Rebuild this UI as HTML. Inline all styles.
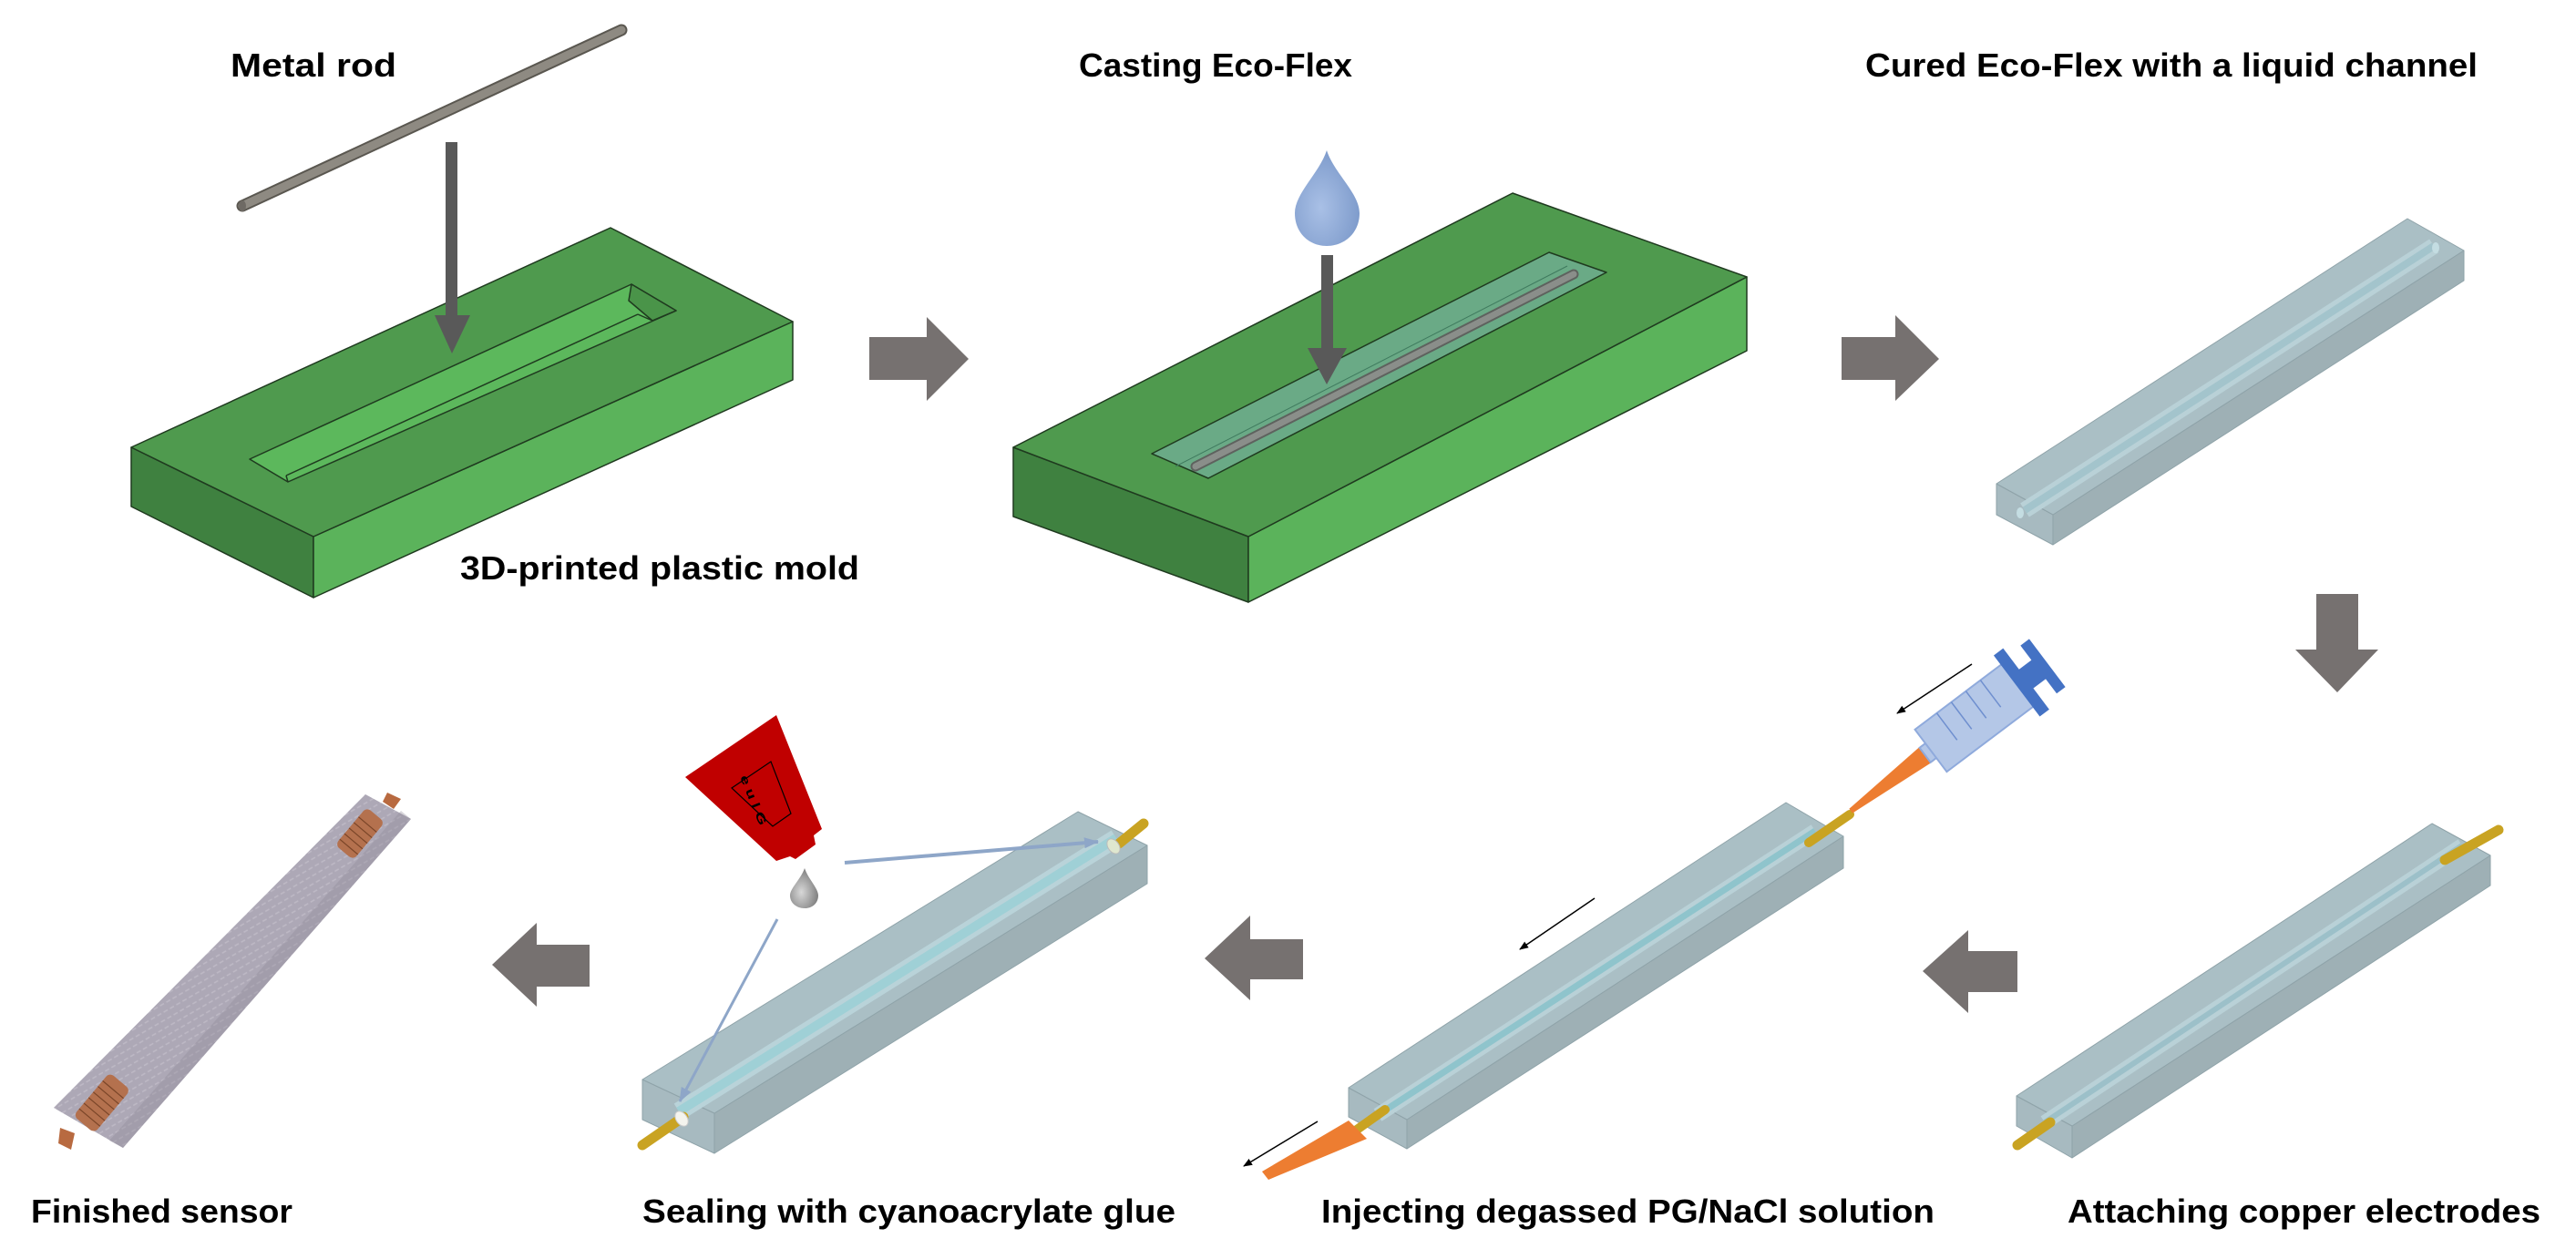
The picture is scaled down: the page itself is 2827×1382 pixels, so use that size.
<!DOCTYPE html>
<html><head><meta charset="utf-8"><style>
html,body{margin:0;padding:0;background:#fff;}
svg{display:block;}
text{font-family:"Liberation Sans",sans-serif;font-weight:bold;fill:#000;}
</style></head><body>
<svg width="2827" height="1382" viewBox="0 0 2827 1382" xmlns="http://www.w3.org/2000/svg">
<defs>
<marker id="ah" markerWidth="10" markerHeight="8" refX="9" refY="4" orient="auto" markerUnits="userSpaceOnUse">
<path d="M0,0 L10,4 L0,8 z" fill="#000"/></marker>
<marker id="bh" markerWidth="16" markerHeight="12" refX="15" refY="6" orient="auto" markerUnits="userSpaceOnUse">
<path d="M0,0 L16,6 L0,12 z" fill="#8ea6c8"/></marker>
<radialGradient id="drop" cx="0.4" cy="0.6" r="0.6"><stop offset="0" stop-color="#a9c0e6"/><stop offset="1" stop-color="#7f9ccc"/></radialGradient>
<radialGradient id="gdrop" cx="0.4" cy="0.6" r="0.6"><stop offset="0" stop-color="#d8d8d8"/><stop offset="1" stop-color="#808080"/></radialGradient>
<pattern id="tex" width="8" height="8" patternUnits="userSpaceOnUse" patternTransform="rotate(-30)">
<rect width="8" height="8" fill="#b1acba"/><line x1="0" y1="4" x2="5" y2="4" stroke="#cdc9d3" stroke-width="1.5"/></pattern>
</defs>

<!-- Labels -->
<text x="253" y="84" font-size="36" textLength="182" lengthAdjust="spacingAndGlyphs">Metal rod</text>
<text x="1184" y="84" font-size="36" textLength="300" lengthAdjust="spacingAndGlyphs">Casting Eco-Flex</text>
<text x="2047" y="84" font-size="36" textLength="672" lengthAdjust="spacingAndGlyphs">Cured Eco-Flex with a liquid channel</text>
<text x="505" y="636" font-size="36" textLength="438" lengthAdjust="spacingAndGlyphs">3D-printed plastic mold</text>
<text x="34" y="1342" font-size="36" textLength="287" lengthAdjust="spacingAndGlyphs">Finished sensor</text>
<text x="705" y="1342" font-size="36" textLength="585" lengthAdjust="spacingAndGlyphs">Sealing with cyanoacrylate glue</text>
<text x="1450" y="1342" font-size="36" textLength="673" lengthAdjust="spacingAndGlyphs">Injecting degassed PG/NaCl solution</text>
<text x="2269" y="1342" font-size="36" textLength="519" lengthAdjust="spacingAndGlyphs">Attaching copper electrodes</text>

<!-- Mold 1 -->
<g stroke="#1f3a1f" stroke-width="1.5" stroke-linejoin="round">
<polygon points="144,491 344,589 344,656 144,556" fill="#3f8140"/>
<polygon points="344,589 870,353 870,417 344,656" fill="#5bb35b"/>
<polygon points="144,491 670,250 870,353 344,589" fill="#4f9a4e"/>
<polygon points="274,504 693,312 742,341 316,529" fill="#5cb85c"/>
<polyline points="314,522 700,345" fill="none"/>
<polyline points="316,529 314,522" fill="none"/>
<polygon points="690,330 693,312 742,341 716,352" fill="#4a9449"/>
<polyline points="700,345 716,352" fill="none"/>
</g>
<!-- Rod -->
<line x1="266" y1="226" x2="682" y2="33" stroke="#5a5750" stroke-width="13" stroke-linecap="round"/>
<line x1="266" y1="226" x2="682" y2="33" stroke="#8e8a82" stroke-width="9" stroke-linecap="round"/>
<ellipse cx="266" cy="226" rx="4" ry="6" fill="#6e6a64"/>
<rect x="489" y="156" width="13" height="192" fill="#595959"/>
<polygon points="477,346 516,346 496,388" fill="#595959"/>
<polygon points="954,370 1017,370 1017,348 1063,394 1017,440 1017,417 954,417" fill="#767170"/>

<!-- Mold 2 -->
<g stroke="#1f3a1f" stroke-width="1.5" stroke-linejoin="round">
<polygon points="1112,491 1370,589 1370,661 1112,567" fill="#3f8140"/>
<polygon points="1370,589 1917,304 1917,385 1370,661" fill="#5bb35b"/>
<polygon points="1112,491 1660,212 1917,304 1370,589" fill="#4f9a4e"/>
<polygon points="1264,498 1700,277 1763,299 1326,525" fill="#6aaa86"/>
<polyline points="1290,512 1720,292" fill="none" stroke="#3f7a5e" stroke-width="1"/>
</g>
<line x1="1312" y1="512" x2="1727" y2="301" stroke="#5e625e" stroke-width="11" stroke-linecap="round"/>
<line x1="1312" y1="512" x2="1727" y2="301" stroke="#8a8e8a" stroke-width="7" stroke-linecap="round"/>
<path d="M1456,165 C1448,190 1421,212 1421,234 C1421,256 1437,270 1456,270 C1475,270 1492,256 1492,234 C1492,212 1464,190 1456,165 z" fill="url(#drop)"/>
<rect x="1450" y="280" width="13" height="102" fill="#595959"/>
<polygon points="1435,382 1478,382 1456,422" fill="#595959"/>
<polygon points="2021,370 2080,370 2080,346 2128,394 2080,440 2080,417 2021,417" fill="#767170"/>

<!-- Cured bar -->
<g stroke="#8fa3a9" stroke-width="1" stroke-linejoin="round">
<polygon points="2191,531 2253,565 2253,598 2191,565" fill="#a7bac0"/>
<polygon points="2253,565 2704,275 2704,308 2253,598" fill="#9eb0b5"/>
<polygon points="2191,531 2642,240 2704,275 2253,565" fill="#aabfc5"/>
</g>
<line x1="2222" y1="560" x2="2671" y2="270" stroke="#b9d1d7" stroke-width="18"/>
<line x1="2222" y1="560" x2="2671" y2="270" stroke="#a3c4cc" stroke-width="8"/>
<ellipse cx="2217" cy="563" rx="4" ry="6" fill="#c4dde2"/>
<ellipse cx="2673" cy="272" rx="4" ry="6" fill="#c4dde2"/>
<polygon points="2542,652 2588,652 2588,713 2610,713 2565,760 2519,713 2542,713" fill="#767170"/>

<!-- Attaching bar -->
<g stroke="#8fa3a9" stroke-width="1" stroke-linejoin="round">
<polygon points="2213,1203 2274,1236 2274,1271 2213,1236" fill="#a7bac0"/>
<polygon points="2274,1236 2733,939 2733,972 2274,1271" fill="#9eb0b5"/>
<polygon points="2213,1203 2669,904 2733,939 2274,1236" fill="#aabfc5"/>
</g>
<line x1="2244" y1="1232" x2="2702" y2="928" stroke="#b9d1d7" stroke-width="16"/>
<line x1="2244" y1="1232" x2="2702" y2="928" stroke="#9cc0c9" stroke-width="6"/>
<line x1="2683" y1="944" x2="2742" y2="911" stroke="#c9a322" stroke-width="11" stroke-linecap="round"/>
<line x1="2214" y1="1257" x2="2250" y2="1232" stroke="#c9a322" stroke-width="11" stroke-linecap="round"/>
<polygon points="2214,1044 2160,1044 2160,1021 2110,1066 2160,1112 2160,1089 2214,1089" fill="#767170"/>

<!-- Injecting bar -->
<g stroke="#8fa3a9" stroke-width="1" stroke-linejoin="round">
<polygon points="1480,1194 1544,1229 1544,1261 1480,1226" fill="#a7bac0"/>
<polygon points="1544,1229 2023,918 2023,953 1544,1261" fill="#9eb0b5"/>
<polygon points="1480,1194 1960,881 2023,918 1544,1229" fill="#aabfc5"/>
</g>
<line x1="1512" y1="1224" x2="1992" y2="912" stroke="#b9d1d7" stroke-width="16"/>
<line x1="1512" y1="1224" x2="1992" y2="912" stroke="#8fc4cc" stroke-width="7"/>
<line x1="1985" y1="925" x2="2030" y2="894" stroke="#c9a322" stroke-width="10" stroke-linecap="round"/>
<line x1="1482" y1="1245" x2="1520" y2="1218" stroke="#c9a322" stroke-width="10" stroke-linecap="round"/>
<polygon points="1480,1230 1500,1250 1392,1295 1385,1286" fill="#ed7d31"/>
<line x1="1446" y1="1231" x2="1365" y2="1280" stroke="#000" stroke-width="1.5" marker-end="url(#ah)"/>
<line x1="1750" y1="986" x2="1668" y2="1042" stroke="#000" stroke-width="1.5" marker-end="url(#ah)"/>
<!-- syringe -->
<g transform="translate(2119,824) rotate(-37)">
<polygon points="-4,-11 -4,11 -110,3 -110,-3" fill="#ed7d31"/>
<rect x="-8" y="-10" width="10" height="20" fill="#b4c7e7" stroke="#8faadc" stroke-width="2"/>
<rect x="0" y="-29" width="120" height="58" fill="#b4c7e7" stroke="#8faadc" stroke-width="2"/>
<g stroke="#6f8fcf" stroke-width="1.5">
<line x1="30" y1="-29" x2="30" y2="8"/><line x1="50" y1="-29" x2="50" y2="8"/>
<line x1="70" y1="-29" x2="70" y2="8"/><line x1="90" y1="-29" x2="90" y2="8"/>
</g>
<rect x="118" y="-42" width="13" height="84" fill="#4472c4"/>
<rect x="130" y="-13" width="20" height="26" fill="#4472c4"/>
<rect x="148" y="-33" width="12" height="66" fill="#4472c4"/>
</g>
<line x1="2164" y1="729" x2="2082" y2="783" stroke="#000" stroke-width="1.5" marker-end="url(#ah)"/>
<polygon points="1430,1031 1372,1031 1372,1005 1322,1052 1372,1098 1372,1075 1430,1075" fill="#767170"/>

<!-- Sealing bar -->
<g stroke="#8fa3a9" stroke-width="1" stroke-linejoin="round">
<polygon points="705,1185 784,1222 784,1266 705,1229" fill="#a7bac0"/>
<polygon points="784,1222 1259,928 1259,970 784,1266" fill="#9eb0b5"/>
<polygon points="705,1185 1183,891 1259,928 784,1222" fill="#aabfc5"/>
</g>
<line x1="745" y1="1220" x2="1225" y2="920" stroke="#b9d3d9" stroke-width="20"/>
<line x1="745" y1="1220" x2="1225" y2="920" stroke="#9fd0d6" stroke-width="10"/>
<line x1="1228" y1="926" x2="1255" y2="904" stroke="#c9a322" stroke-width="11" stroke-linecap="round"/>
<line x1="705" y1="1257" x2="750" y2="1226" stroke="#c9a322" stroke-width="11" stroke-linecap="round"/>
<ellipse cx="748" cy="1228" rx="6" ry="9" fill="#f4f4ee" stroke="#ccc" transform="rotate(-35 748 1228)"/>
<ellipse cx="1222" cy="929" rx="6" ry="9" fill="#dfe7cf" stroke="#bbb" transform="rotate(-35 1222 929)"/>
<!-- glue bottle -->
<polygon points="852,785 902,910 893,917 895,927 873,943 867,940 852,945 752,853" fill="#c00000"/>
<polygon points="803,865 846,836 868,893 848,907" fill="none" stroke="#000" stroke-width="1.2"/>
<text x="0" y="0" font-size="13" transform="translate(812,853) rotate(68)" textLength="58" lengthAdjust="spacingAndGlyphs">e u l G</text>
<path d="M883,953 C879,965 867,975 867,983 C867,991 874,997 883,997 C892,997 898,991 898,983 C898,975 887,965 883,953 z" fill="url(#gdrop)"/>
<line x1="927" y1="947" x2="1205" y2="924" stroke="#8ea6c8" stroke-width="4" marker-end="url(#bh)"/>
<line x1="853" y1="1009" x2="746" y2="1209" stroke="#8ea6c8" stroke-width="3" marker-end="url(#bh)"/>
<polygon points="647,1037 589,1037 589,1013 540,1059 589,1105 589,1083 647,1083" fill="#767170"/>

<!-- Finished sensor -->
<polygon points="401,872 451,899 135,1260 59,1216" fill="url(#tex)"/>
<polygon points="401,872 451,899 135,1260 59,1216" fill="#a8a2b2" fill-opacity="0.4"/>
<polygon points="440,890 451,899 135,1260 120,1252" fill="#8f8a99" fill-opacity="0.35"/>
<g transform="rotate(-50 395 915)"><rect x="368" y="902" width="54" height="26" rx="6" fill="#b4714e"/>
<g stroke="#7a4528" stroke-width="1.2"><line x1="376" y1="902" x2="376" y2="928"/><line x1="384" y1="902" x2="384" y2="928"/><line x1="392" y1="902" x2="392" y2="928"/><line x1="400" y1="902" x2="400" y2="928"/><line x1="408" y1="902" x2="408" y2="928"/></g></g>
<g transform="rotate(-50 112 1212)"><rect x="82" y="1196" width="62" height="30" rx="6" fill="#b4714e"/>
<g stroke="#7a4528" stroke-width="1.2"><line x1="92" y1="1196" x2="92" y2="1226"/><line x1="100" y1="1196" x2="100" y2="1226"/><line x1="108" y1="1196" x2="108" y2="1226"/><line x1="116" y1="1196" x2="116" y2="1226"/><line x1="124" y1="1196" x2="124" y2="1226"/><line x1="132" y1="1196" x2="132" y2="1226"/></g></g>
<polygon points="66,1238 82,1244 78,1262 64,1255" fill="#b86a40"/>
<polygon points="425,870 440,877 432,888 420,880" fill="#b86a40"/>
</svg>
</body></html>
